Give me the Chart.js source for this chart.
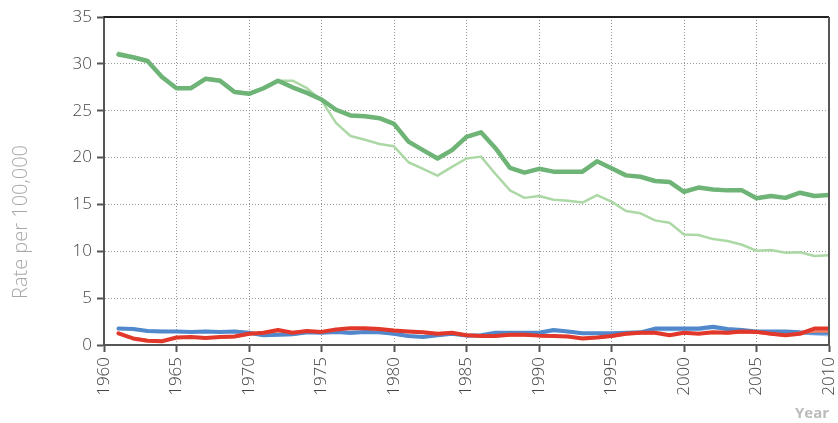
<!DOCTYPE html>
<html>
<head>
<meta charset="utf-8">
<script src="https://cdn.jsdelivr.net/npm/chart.js@4/dist/chart.umd.min.js"></script>
<style>
html,body{margin:0;padding:0;background:#fff;}
#wrap{width:838px;height:423px;}
</style>
</head>
<body>
<div id="wrap"><canvas id="c" width="838" height="423"></canvas></div>
<script>
// ---- data ----
const years = [1961,1962,1963,1964,1965,1966,1967,1968,1969,1970,
               1971,1972,1973,1974,1975,1976,1977,1978,1979,1980,
               1981,1982,1983,1984,1985,1986,1987,1988,1989,1990,
               1991,1992,1993,1994,1995,1996,1997,1998,1999,2000,
               2001,2002,2003,2004,2005,2006,2007,2008,2009,2010];
const greenDark = [31.0,30.7,30.3,28.6,27.4,27.4,28.4,28.2,27.0,26.8,
                   27.4,28.2,27.5,26.9,26.2,25.1,24.5,24.4,24.2,23.6,
                   21.7,20.8,19.9,20.8,22.2,22.7,21.0,18.9,18.4,18.8,
                   18.5,18.5,18.5,19.6,18.85,18.1,17.95,17.5,17.4,16.35,
                   16.8,16.6,16.5,16.5,15.65,15.9,15.7,16.25,15.9,16.0];
const greenLight = [31.2,30.8,30.4,28.5,27.5,27.5,28.5,28.3,27.1,26.9,
                    27.4,28.2,28.2,27.4,26.1,23.7,22.3,21.9,21.45,21.2,
                    19.5,18.8,18.07,19.0,19.9,20.1,18.25,16.5,15.7,15.9,
                    15.5,15.4,15.2,16.0,15.3,14.3,14.05,13.3,13.05,11.8,
                    11.74,11.3,11.1,10.7,10.06,10.14,9.85,9.9,9.5,9.57];
const blueDark = [1.75,1.7,1.5,1.45,1.45,1.4,1.45,1.4,1.45,1.3,
                  1.05,1.1,1.15,1.35,1.3,1.4,1.3,1.4,1.35,1.2,
                  0.95,0.85,1.05,1.2,1.0,1.05,1.3,1.3,1.3,1.3,
                  1.6,1.45,1.25,1.25,1.25,1.3,1.35,1.75,1.75,1.75,
                  1.75,1.95,1.7,1.6,1.45,1.45,1.45,1.35,1.3,1.3];
const blueLight = [1.8,1.75,1.5,1.5,1.45,1.4,1.5,1.4,1.5,1.25,
                   1.0,1.05,1.1,1.3,1.3,1.35,1.2,1.35,1.3,1.15,
                   0.9,0.85,1.0,1.15,1.0,1.0,1.25,1.25,1.25,1.2,
                   1.5,1.4,1.2,1.2,1.2,1.25,1.3,1.6,1.6,1.6,
                   1.6,1.8,1.6,1.5,1.4,1.35,1.35,1.25,1.15,1.05];
const redDark = [1.25,0.7,0.45,0.4,0.8,0.85,0.75,0.85,0.9,1.2,
                 1.3,1.6,1.3,1.5,1.4,1.65,1.8,1.8,1.7,1.55,
                 1.45,1.35,1.2,1.3,1.05,0.95,0.95,1.1,1.1,1.0,
                 0.95,0.9,0.7,0.8,0.95,1.2,1.3,1.3,1.05,1.3,
                 1.2,1.35,1.3,1.45,1.4,1.2,1.05,1.2,1.75,1.75];
const redLight = [1.2,0.75,0.5,0.45,0.75,0.8,0.8,0.8,0.85,1.15,
                  1.25,1.5,1.35,1.45,1.45,1.6,1.75,1.75,1.65,1.5,
                  1.4,1.3,1.25,1.25,1.1,1.0,1.0,1.05,1.05,1.0,
                  0.95,0.85,0.75,0.8,0.9,1.15,1.25,1.25,1.1,1.25,
                  1.2,1.3,1.25,1.35,1.3,1.15,1.0,1.3,1.45,1.45];
const xTicks = [1960,1965,1970,1975,1980,1985,1990,1995,2000,2005,2010];
const yTicks = [0,5,10,15,20,25,30,35];
const yTitle = 'Rate per 100,000';
const xTitle = 'Year';

function pts(arr){ return years.map((y,i)=>({x:y,y:arr[i]})); }

const FONT = '"Open Sans", "DejaVu Sans", sans-serif';

const framePlugin = {
  id:'frame',
  afterDraw(chart){
    const {ctx, chartArea:a} = chart;
    ctx.save();
    ctx.strokeStyle = '#222';
    ctx.lineWidth = 2;
    ctx.beginPath();
    ctx.moveTo(a.left, a.top); ctx.lineTo(a.right, a.top);
    ctx.stroke();
    ctx.strokeStyle = '#555';
    ctx.beginPath();
    ctx.moveTo(a.right, a.top); ctx.lineTo(a.right, a.bottom);
    ctx.stroke();
    // y title
    ctx.fillStyle = '#a8a8a8';
    ctx.font = '300 20px ' + FONT;
    ctx.textAlign = 'center';
    ctx.textBaseline = 'middle';
    ctx.translate(21, 222);
    ctx.rotate(-Math.PI/2);
    ctx.fillText(yTitle, 0, 0);
    ctx.restore();
    ctx.save();
    ctx.fillStyle = '#bbb';
    ctx.font = 'bold 15px ' + FONT;
    ctx.textAlign = 'right';
    ctx.textBaseline = 'middle';
    ctx.fillText(xTitle, a.right, 414);
    ctx.restore();
  }
};

function ds(data, color, width, order){
  return {data:pts(data), borderColor:color, backgroundColor:color, borderWidth:width,
    pointRadius:0, tension:0, borderJoinStyle:'round', borderCapStyle:'round', order:order, fill:false};
}

new Chart(document.getElementById('c'), {
  type:'line',
  data:{ datasets:[
    ds(redDark,'#e2382b',4,1),
    ds(redLight,'#f4805f',2.5,2),
    ds(blueDark,'#5088cb',4,3),
    ds(blueLight,'#9cc2ea',2.5,4),
    ds(greenDark,'#6fb477',4.5,5),
    ds(greenLight,'#acd8a6',2.5,6)
  ]},
  options:{
    responsive:false, animation:false,
    layout:{padding:{top:17,right:9,left:0,bottom:0}},
    plugins:{legend:{display:false}, tooltip:{enabled:false}},
    scales:{
      x:{type:'linear', min:1960, max:2010,
        afterBuildTicks(s){ s.ticks = xTicks.map(v=>({value:v})); },
        afterFit(s){ s.height = 78; s.paddingLeft = 0; s.paddingRight = 0; },
        grid:{color:'#999', lineWidth:1, drawTicks:true, tickLength:7, tickColor:'#555', tickWidth:2},
        border:{display:true, color:'#555', width:2, dash:[1,2]},
        ticks:{autoSkip:false, maxRotation:90, minRotation:90, color:'#444', padding:5,
          font:{family:FONT, size:17, weight:'300'}, callback:v=>String(v)}
      },
      y:{type:'linear', min:0, max:35,
        afterBuildTicks(s){ s.ticks = yTicks.map(v=>({value:v})); },
        afterFit(s){ s.width = 104; s.paddingTop = 0; s.paddingBottom = 0; },
        grid:{color:'#999', lineWidth:1, drawTicks:true, tickLength:7, tickColor:'#555', tickWidth:2},
        border:{display:true, color:'#555', width:2, dash:[1,2]},
        ticks:{color:'#444', padding:5, font:{family:FONT, size:17, weight:'300'}}
      }
    }
  },
  plugins:[framePlugin]
});
</script>
</body>
</html>
